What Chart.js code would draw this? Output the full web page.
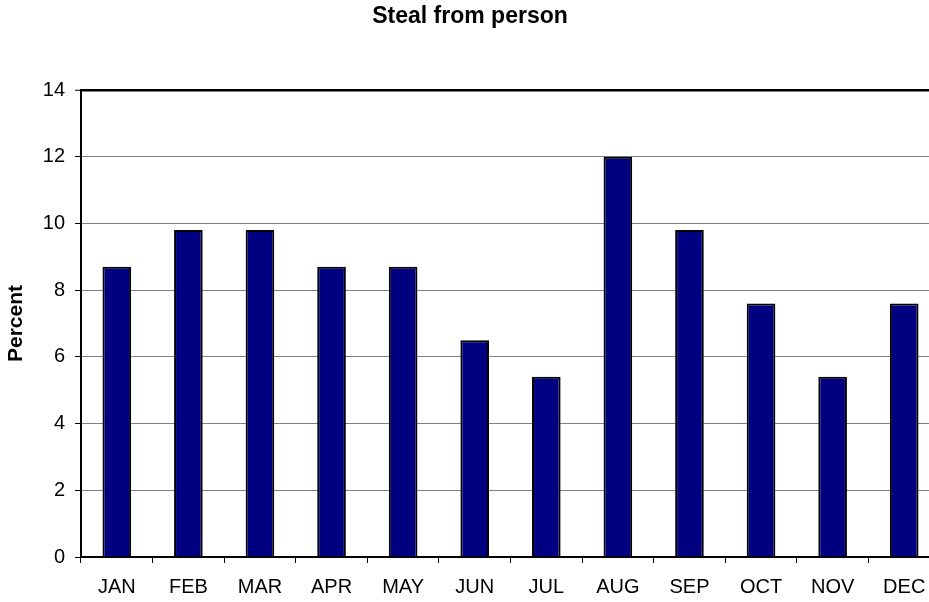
<!DOCTYPE html>
<html>
<head>
<meta charset="utf-8">
<script src="https://cdn.jsdelivr.net/npm/chart.js@4.4.1/dist/chart.umd.min.js"></script>
<style>
  html, body { margin: 0; padding: 0; background: #fff; overflow: hidden; }
  #wrap { width: 940px; height: 602px; }
</style>
</head>
<body>
<div id="wrap"><canvas id="c" width="940" height="602"></canvas></div>
<script>
const categories = ['JAN','FEB','MAR','APR','MAY','JUN','JUL','AUG','SEP','OCT','NOV','DEC'];
const percentValues = [8.7, 9.8, 9.8, 8.7, 8.7, 6.5, 5.4, 12.0, 9.8, 7.6, 5.4, 7.6];
const yTicks = [0, 2, 4, 6, 8, 10, 12, 14];
const chartTitle = 'Steal from person';
const yTitle = 'Percent';

const FONT = '"Liberation Sans", Arial, sans-serif';

new Chart(document.getElementById('c'), {
  type: 'bar',
  data: {
    labels: categories,
    datasets: [{
      data: percentValues,
      backgroundColor: '#000080',
      borderColor: '#000000',
      borderWidth: 2,
      barPercentage: 0.4,
      categoryPercentage: 1.0
    }]
  },
  options: {
    responsive: false,
    animation: false,
    layout: { padding: { left: 0, right: 0, top: 0, bottom: 0 } },
    plugins: {
      legend: { display: false },
      tooltip: { enabled: false },
      title: {
        display: true,
        text: chartTitle,
        color: '#000',
        font: { family: FONT, size: 23, weight: 'bold' },
        padding: { top: 3.2, bottom: 59.2 }
      }
    },
    scales: {
      x: {
        offset: true,
        border: { display: true, color: '#000', width: 2 },
        grid: {
          offset: true,
          drawOnChartArea: false,
          drawTicks: true,
          tickLength: 6,
          tickColor: '#000',
          tickWidth: 1
        },
        ticks: {
          color: '#000',
          font: { family: FONT, size: 20 },
          padding: 12,
          maxRotation: 0,
          autoSkip: false
        },
        afterFit: (s) => { s.height = 45; }
      },
      y: {
        min: 0,
        max: 14,
        afterBuildTicks: (s) => { s.ticks = yTicks.map(v => ({ value: v })); },
        border: { display: true, color: '#000', width: 2 },
        grid: {
          color: (ctx) => (ctx.tick && ctx.tick.value === 14) ? '#000' : '#808080',
          lineWidth: (ctx) => (ctx.tick && ctx.tick.value === 14) ? 2.5 : 1,
          tickColor: '#000',
          tickWidth: 1,
          tickLength: 6
        },
        ticks: {
          color: '#000',
          font: { family: FONT, size: 20 },
          padding: 10
        },
        title: {
          display: true,
          text: yTitle,
          color: '#000',
          font: { family: FONT, size: 21, weight: 'bold' },
          padding: { top: 4, bottom: 0 }
        },
        afterFit: (s) => { s.width = 81; }
      }
    }
  }
});
</script>
</body>
</html>
